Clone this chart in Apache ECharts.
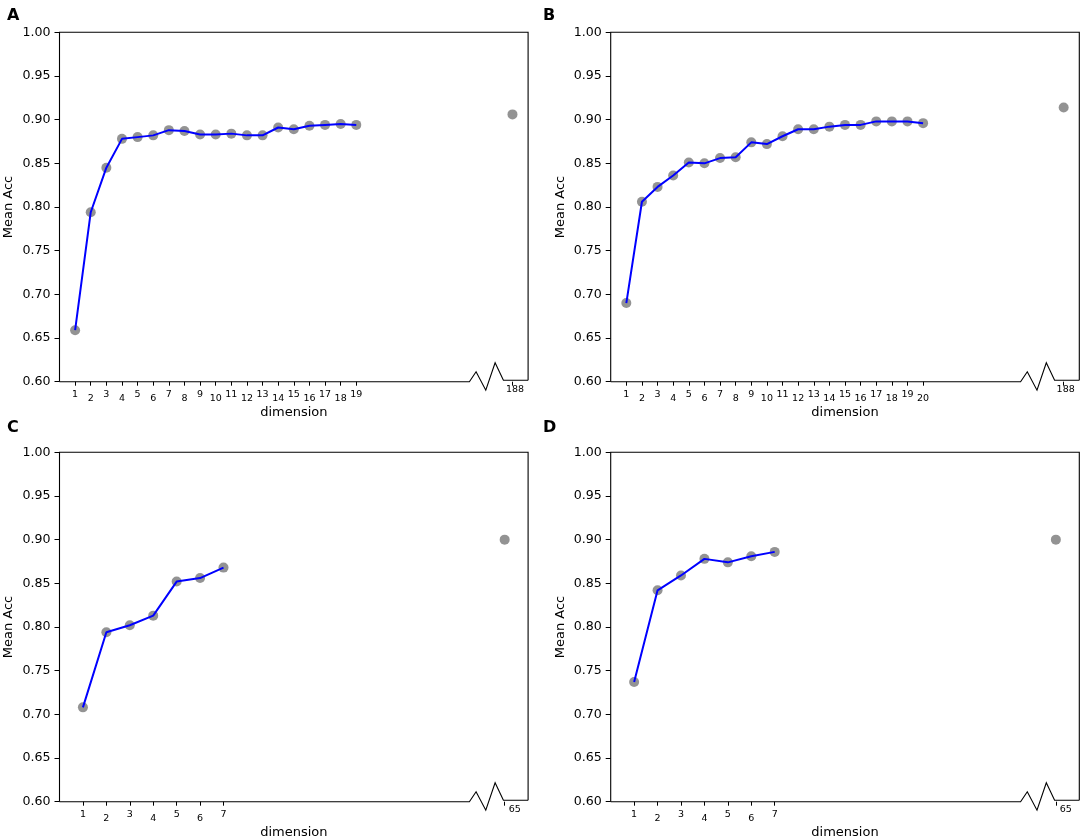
<!DOCTYPE html>
<html><head><meta charset="utf-8">
<script src="https://cdn.jsdelivr.net/npm/echarts@6/dist/echarts.min.js"></script>
<style>html,body{margin:0;padding:0;background:#fff}#c{width:1084px;height:840px}</style>
</head><body><div id="c"></div>
<script>
// ---- data ----
const dimsA = ['1','2','3','4','5','6','7','8','9','10','11','12','13','14','15','16','17','18','19'];
const accA  = [0.659,0.794,0.845,0.878,0.880,0.882,0.888,0.887,0.883,0.883,0.884,0.882,0.882,0.891,0.889,0.893,0.894,0.895,0.894];
const farDimA = '188';
const farAccA = 0.906;

const dimsB = ['1','2','3','4','5','6','7','8','9','10','11','12','13','14','15','16','17','18','19','20'];
const accB  = [0.690,0.806,0.823,0.836,0.851,0.850,0.856,0.857,0.874,0.872,0.881,0.889,0.889,0.892,0.894,0.894,0.898,0.898,0.898,0.896];
const farDimB = '188';
const farAccB = 0.914;

const dimsC = ['1','2','3','4','5','6','7'];
const accC  = [0.708,0.794,0.802,0.813,0.852,0.856,0.868];
const farDimC = '65';
const farAccC = 0.900;

const dimsD = ['1','2','3','4','5','6','7'];
const accD  = [0.737,0.842,0.859,0.878,0.874,0.881,0.886];
const farDimD = '65';
const farAccD = 0.900;

const yMin = 0.60, yMax = 1.00, yStep = 0.05;
const yAxisName = 'Mean Acc';
const xAxisName = 'dimension';
const letters = ['A','B','C','D'];

// ---- layout ----
const FONT = 'DejaVu Sans';
const W = 468.6, H = 349.4;
const panels = [
  {dims:dimsA, acc:accA, farDim:farDimA, farAcc:farAccA, slots:31, farPos:29, left:59.5,  top:32.3,  farShift:5,  lx:7,   ly:8},
  {dims:dimsB, acc:accB, farDim:farDimB, farAcc:farAccB, slots:31, farPos:29, left:610.7, top:32.3,  farShift:4,  lx:543, ly:8},
  {dims:dimsC, acc:accC, farDim:farDimC, farAcc:farAccC, slots:21, farPos:19, left:59.5,  top:452.3, farShift:20, lx:7,   ly:420},
  {dims:dimsD, acc:accD, farDim:farDimD, farAcc:farAccD, slots:21, farPos:19, left:610.7, top:452.3, farShift:20, lx:543, ly:420}
];

const grid = [], xAxis = [], yAxis = [], series = [], graphic = [], title = [];

panels.forEach((p, k) => {
  const cats = [];
  for (let i = 0; i < p.slots; i++) cats.push('');
  p.dims.forEach((d, i) => { cats[i + 1] = d; });
  cats[p.farPos] = p.farDim;

  const pointData = cats.map((c, i) => (i >= 1 && i <= p.dims.length) ? p.acc[i - 1] : (i === p.farPos ? p.farAcc : '-'));
  const lineData  = cats.map((c, i) => (i >= 1 && i <= p.dims.length) ? p.acc[i - 1] : '-');

  grid.push({left: p.left, top: p.top, width: W, height: H, containLabel: false});

  const shown = (idx, val) => val !== '';
  xAxis.push({
    type: 'category', gridIndex: k, data: cats, boundaryGap: false,
    axisLine: {show: false},
    axisTick: {show: true, interval: shown, length: 4, lineStyle: {color: '#000', width: 1}},
    axisLabel: {
      interval: shown, margin: 1, color: '#000', fontFamily: FONT, fontSize: 9.5,
      formatter: (v) => {
        if (v === p.farDim) return '{far|' + v + '}';
        return (parseInt(v, 10) % 2 ? '{hi|' : '{lo|') + v + '}';
      },
      rich: {
        hi:  {fontFamily: FONT, fontSize: 9.5, color: '#000', lineHeight: 24, verticalAlign: 'middle'},
        lo:  {fontFamily: FONT, fontSize: 9.5, color: '#000', lineHeight: 32, verticalAlign: 'middle'},
        far: {fontFamily: FONT, fontSize: 9.5, color: '#000', lineHeight: 13, verticalAlign: 'middle', padding: [0, 0, 0, p.farShift]}
      }
    },
    splitLine: {show: false},
    name: xAxisName, nameLocation: 'middle', nameGap: 24,
    nameTextStyle: {fontFamily: FONT, fontSize: 13, color: '#000'}
  });

  yAxis.push({
    type: 'value', gridIndex: k, min: yMin, max: yMax, interval: yStep,
    axisLine: {show: false},
    axisTick: {show: true, length: 5, lineStyle: {color: '#000', width: 1}},
    axisLabel: {margin: 9, color: '#000', fontFamily: FONT, fontSize: 12.6, formatter: (v) => v.toFixed(2)},
    splitLine: {show: false},
    name: yAxisName, nameLocation: 'middle', nameGap: 44,
    nameTextStyle: {fontFamily: FONT, fontSize: 13, color: '#000'}
  });

  series.push({
    type: 'scatter', xAxisIndex: k, yAxisIndex: k, data: pointData,
    symbol: 'circle', symbolSize: 10, itemStyle: {color: '#787878'}, z: 2, silent: true
  });
  series.push({
    type: 'line', xAxisIndex: k, yAxisIndex: k, data: lineData,
    symbol: 'none', connectNulls: false, lineStyle: {color: '#0000ff', width: 2}, z: 3, silent: true
  });

  // frame (spines) with broken-axis zigzag on the bottom
  const L = p.left, T = p.top, R = p.left + W, B = p.top + H;
  graphic.push({
    type: 'polyline', silent: true, z: 10,
    shape: {points: [[R, B - 1.5], [R, T], [L, T], [L, B]]},
    style: {stroke: '#000', lineWidth: 1.1, fill: null}
  });
  graphic.push({
    type: 'polyline', silent: true, z: 10,
    shape: {points: [
      [L, B], [L + 0.8747 * W, B], [L + 0.889 * W, B - 10], [L + 0.9097 * W, B + 8.5],
      [L + 0.9296 * W, B - 19], [L + 0.9473 * W, B - 1.5], [R, B - 1.5]
    ]},
    style: {stroke: '#000', lineWidth: 1.1, fill: null}
  });

  title.push({
    text: letters[k], left: p.lx, top: p.ly, padding: 0,
    textStyle: {fontFamily: FONT, fontSize: 16, fontWeight: 'bold', color: '#000'}
  });
});

const chart = echarts.init(document.getElementById('c'), null, {renderer: 'canvas'});
chart.setOption({
  animation: false, backgroundColor: '#fff',
  title, grid, xAxis, yAxis, series, graphic
});
</script>
</body></html>
